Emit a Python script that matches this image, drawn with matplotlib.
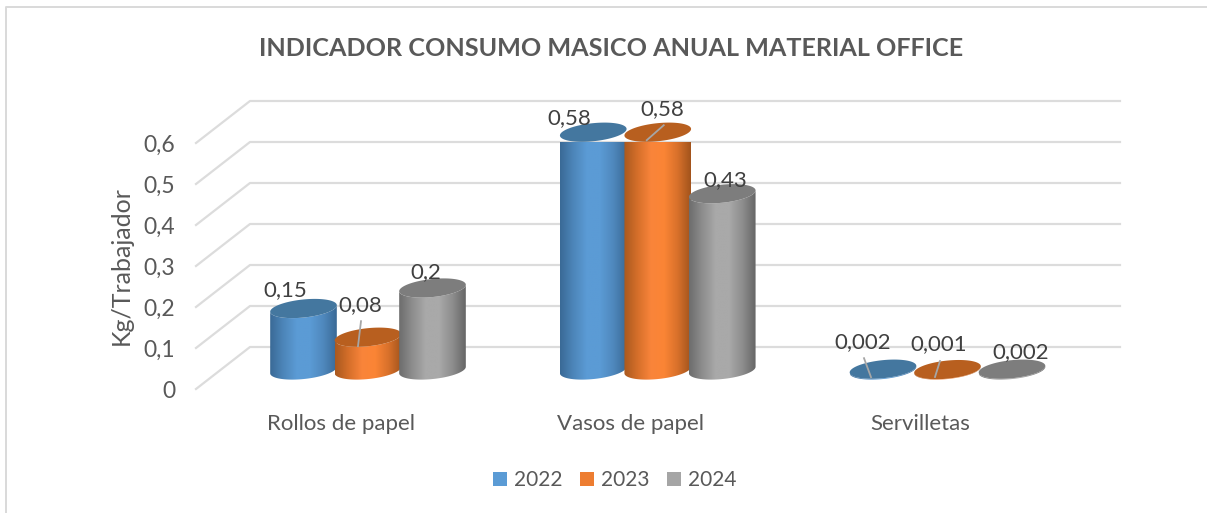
import numpy as np
import matplotlib
matplotlib.use("Agg")
import matplotlib.pyplot as plt
from matplotlib.colors import LinearSegmentedColormap
from matplotlib.patches import Patch, Polygon
from matplotlib.lines import Line2D

categories = ["Rollos de papel", "Vasos de papel", "Servilletas"]
years = ["2022", "2023", "2024"]
v2022 = [0.15, 0.58, 0.002]
v2023 = [0.08, 0.58, 0.001]
v2024 = [0.2, 0.43, 0.002]
labels2022 = ["0,15", "0,58", "0,002"]
labels2023 = ["0,08", "0,58", "0,001"]
labels2024 = ["0,2", "0,43", "0,002"]
yticks = [0, 0.1, 0.2, 0.3, 0.4, 0.5, 0.6]
yticklabels = ["0", "0,1", "0,2", "0,3", "0,4", "0,5", "0,6"]

W, H = 1214, 513
plt.rcParams["font.family"] = ["Lato", "DejaVu Sans"]
TXT = "#595959"
GRID = "#dcdcdc"

fig = plt.figure(figsize=(W / 100, H / 100), dpi=100, facecolor="white")
# value 0 .. 0.6 sits on the front plane, pixel rows 389 .. 143
AX_L, AX_R, AX_T, AX_B = 196, 1120, 143, 389
ax = fig.add_axes([AX_L / W, 1 - AX_B / H, (AX_R - AX_L) / W, (AX_B - AX_T) / H])
PX_X = 289.75              # pixels per category
PX_Y = (AX_B - AX_T) / 0.6  # pixels per unit value
X0 = 368                   # pixel of first category centre
ax.set_xlim((AX_L - X0) / PX_X, (AX_R - X0) / PX_X)
ax.set_ylim(0, 0.6)
ax.patch.set_visible(False)
for s in ax.spines.values():
    s.set_visible(False)

# outer frame
FRAME = "#d9d9d9"
fig.add_artist(Line2D([6 / W, 6 / W, 1206 / W], [0, 1 - 7 / H, 1 - 7 / H],
                      color=FRAME, lw=1.4))

# walls
DEPTH_X = 54 / PX_X
DEPTH_Y = 42 / PX_Y
for t in yticks:
    ax.plot([ax.get_xlim()[0], ax.get_xlim()[0] + DEPTH_X, ax.get_xlim()[1]],
            [t, t + DEPTH_Y, t + DEPTH_Y], color=GRID, lw=1.6, clip_on=False, zorder=1)

LABEL_SHIFT = 27 / PX_X
ax.set_yticks(yticks, yticklabels)
ax.set_xticks([i - LABEL_SHIFT for i in range(3)], categories)
ax.tick_params(axis="both", length=0, labelcolor=TXT)
ax.tick_params(axis="y", labelsize=16.5, pad=15)
ax.tick_params(axis="x", labelsize=16, pad=18)
for lab in ax.get_yticklabels():
    lab.set_verticalalignment("center_baseline")
ax.set_ylabel("Kg/Trabajador", fontsize=18, color=TXT, labelpad=7.6)

# cylinders
BAR_STEP = 64.5 / PX_X
A_PX, B_PX = 33.5, 9
THETA = np.deg2rad(6)
BASE_LIFT = 19 / PX_Y
styles = [
    (["#3a6a96", "#4d86ba", "#5b9bd5", "#5b9bd5", "#4f88bd", "#3a6a96"], "#44779f"),
    (["#a9591f", "#d56f2a", "#f9843a", "#fb8535", "#d9712b", "#a2541c"], "#b85f1f"),
    (["#6d6d6d", "#8e8e8e", "#a9a9a9", "#a9a9a9", "#8e8e8e", "#666666"], "#7d7d7d"),
]


def ring(cx, cy, t):
    dx = (A_PX * np.cos(t) * np.cos(THETA) - B_PX * np.sin(t) * np.sin(THETA)) / PX_X
    dy = (A_PX * np.cos(t) * np.sin(THETA) + B_PX * np.sin(t) * np.cos(THETA)) / PX_Y
    return np.column_stack([cx + dx, cy + dy])


tops = []
series = [v2022, v2023, v2024]
for s_i, (vals, (cols, topc)) in enumerate(zip(series, styles)):
    cmap = LinearSegmentedColormap.from_list("c", cols)
    tops_s = []
    for c_i, v in enumerate(vals):
        cx = c_i + (s_i - 1) * BAR_STEP
        y0, y1 = BASE_LIFT, BASE_LIFT + v
        z = 3 + s_i
        t_low = np.linspace(np.pi, 2 * np.pi, 60)
        low = ring(cx, y0, t_low)
        up = ring(cx, y1, t_low[::-1])
        body = Polygon(np.vstack([low, up]), closed=True, transform=ax.transData,
                       facecolor="none", edgecolor="none", clip_on=False)
        ax.add_patch(body)
        hw = A_PX / PX_X
        im = ax.imshow(np.linspace(0, 1, 128)[None, :], cmap=cmap, aspect="auto",
                       extent=[cx - hw, cx + hw, y0 - 0.03, y1 + 0.03], zorder=z,
                       interpolation="bilinear")
        im.set_clip_box(None)
        im.set_clip_path(body)
        ax.add_patch(Polygon(ring(cx, y1, np.linspace(0, 2 * np.pi, 120)), closed=True,
                             facecolor=topc, edgecolor="none", zorder=z + 0.1, clip_on=False))
        tops_s.append((cx, y1))
    tops.append(tops_s)
ax.set_xlim((AX_L - X0) / PX_X, (AX_R - X0) / PX_X)
ax.set_ylim(0, 0.6)

# data labels: pixel offset of the label centre from the cylinder's top centre
all_labels = [labels2022, labels2023, labels2024]
label_off = [
    [(-18.5, -18), (-24, -14), (-20, -27.5)],
    [(-8, -32.5), (5, -23.5), (-8.5, -25)],
    [(-6.5, -15.5), (3, -13.5), (9, -17.5)],
]
for s_i in range(3):
    for c_i in range(3):
        cx, cy = tops[s_i][c_i]
        dx, dy = label_off[s_i][c_i]
        ax.annotate(all_labels[s_i][c_i], xy=(cx, cy), xytext=(dx * 0.72, -dy * 0.72),
                    textcoords="offset points", ha="center", va="center",
                    fontsize=16, color="#404040", zorder=20, annotation_clip=False)

# leader lines (series, category, from-offset, to-offset), offsets in px from top centre
leaders = [
    (1, 0, (-7, -16), (-10, 9)),
    (1, 1, (6, -7), (-11, 8)),
    (0, 2, (-19, -11), (-12, 8)),
    (1, 2, (-7.5, -8.6), (-12.5, 7.4)),
]
for s_i, c_i, (a, b), (c, d) in leaders:
    cx, cy = tops[s_i][c_i]
    ax.plot([cx + a / PX_X, cx + c / PX_X], [cy - b / PX_Y, cy - d / PX_Y],
            color="#a6a6a6", lw=1.3, zorder=15, clip_on=False)

fig.text(611 / W, 1 - 48 / H, "INDICADOR CONSUMO MASICO ANUAL MATERIAL OFFICE",
         ha="center", va="center", fontsize=18.1, fontweight="bold", color=TXT)

handles = [Patch(facecolor=c, edgecolor="none", label=y)
           for c, y in zip(["#5b9bd5", "#ed7d31", "#a5a5a5"], years)]
fig.legend(handles=handles, ncol=3, frameon=False, loc="center",
           bbox_to_anchor=(615 / W, 1 - 480 / H), fontsize=15, labelcolor=TXT,
           handlelength=0.67, handleheight=0.67, handletextpad=0.35, columnspacing=0.83)

fig.savefig("out.png", dpi=100)
